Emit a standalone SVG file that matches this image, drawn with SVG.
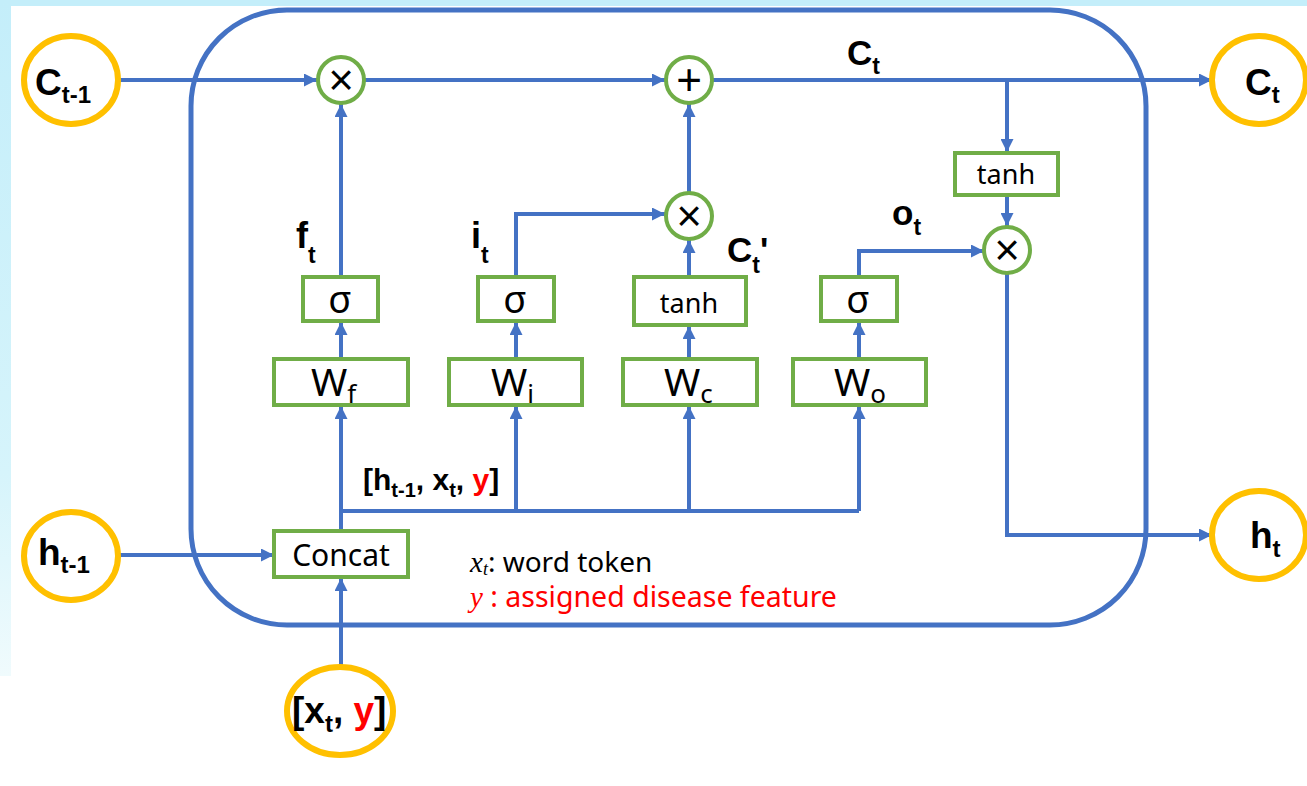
<svg xmlns="http://www.w3.org/2000/svg" width="1307" height="786" viewBox="0 0 1307 786">
<defs>
<linearGradient id="lg" x1="0" y1="0" x2="0" y2="1">
<stop offset="0" stop-color="#c4eefa"/>
<stop offset="0.7" stop-color="#d6f4fb"/>
<stop offset="1" stop-color="#f0fbfd"/>
</linearGradient>
<marker id="ah" viewBox="0 0 13 13" markerWidth="13" markerHeight="13" refX="13" refY="6.5" orient="auto" markerUnits="userSpaceOnUse">
<path d="M0,0 L13,6.5 L0,13 z" fill="#4472C4"/>
</marker>
<style>
.ln{fill:none;stroke:#4472C4;stroke-width:4}
.ar{marker-end:url(#ah)}
.op{fill:#fff;stroke:#70AD47;stroke-width:4}
.bx{fill:#fff;stroke:#70AD47;stroke-width:4}
.io{fill:#fff;stroke:#FFC000;stroke-width:6}
.lb{font-family:"Liberation Sans",Arial,sans-serif;font-weight:bold;fill:#000}
.bt{font-family:"Noto Sans","Open Sans",sans-serif;fill:#000}
.sym{font-family:"Liberation Sans",Arial,sans-serif;font-size:44px;text-anchor:middle;fill:#000}
.red{fill:#ff0000}
</style>
</defs>
<rect x="0" y="0" width="1307" height="786" fill="#fff"/>
<rect x="0" y="0" width="1307" height="6" fill="#c4eefa"/>
<rect x="0" y="0" width="11" height="676" fill="url(#lg)"/>

<g id="cell">
<rect x="191" y="10" width="955" height="615" rx="96" ry="96" fill="none" stroke="#4472C4" stroke-width="5"/>
</g>

<g id="connectors">
<path class="ln ar" d="M120,80 H317"/>
<path class="ln ar" d="M364,80 H665"/>
<path class="ln ar" d="M712,80 H1212"/>
<path class="ln ar" d="M1007,80 V152"/>
<path class="ln ar" d="M1007,197 V226"/>
<path class="ln ar" d="M1007,273 V535 H1212"/>
<path class="ln ar" d="M859,277 V251 H984"/>
<path class="ln ar" d="M341,277 V104"/>
<path class="ln ar" d="M516,277 V214 H665"/>
<path class="ln ar" d="M689,277 V240"/>
<path class="ln ar" d="M689,193 V104"/>
<path class="ln ar" d="M341,359 V322"/>
<path class="ln ar" d="M516,359 V322"/>
<path class="ln ar" d="M689,359 V326"/>
<path class="ln ar" d="M859,359 V322"/>
<path class="ln ar" d="M341,531 V406"/>
<path class="ln" d="M341,511 H859"/>
<path class="ln ar" d="M516,511 V406"/>
<path class="ln ar" d="M689,511 V406"/>
<path class="ln ar" d="M859,511 V406"/>
<path class="ln ar" d="M120,555 H274"/>
<path class="ln ar" d="M341,667 V578"/>
</g>

<g id="c_prev">
<ellipse class="io" cx="71" cy="80" rx="47" ry="44"/>
<text class="lb" x="35" y="95" font-size="37">C<tspan font-size="24" dy="8">t-1</tspan></text>
</g>
<g id="h_prev">
<ellipse class="io" cx="71" cy="556" rx="47" ry="44"/>
<text class="lb" x="38" y="565" font-size="37">h<tspan font-size="24" dy="8">t-1</tspan></text>
</g>
<g id="c_t">
<ellipse class="io" cx="1259" cy="80" rx="47" ry="44"/>
<text class="lb" x="1245" y="95" font-size="37">C<tspan font-size="24" dy="8">t</tspan></text>
</g>
<g id="h_t">
<ellipse class="io" cx="1259" cy="535" rx="47" ry="44"/>
<text class="lb" x="1250" y="548" font-size="37">h<tspan font-size="24" dy="9">t</tspan></text>
</g>
<g id="input">
<ellipse class="io" cx="340" cy="711" rx="53" ry="44"/>
<text class="lb" x="292" y="723" font-size="37">[x<tspan font-size="24" dy="9">t</tspan><tspan dy="-9">, </tspan><tspan class="red">y</tspan>]</text>
</g>

<g id="mul_f">
<circle class="op" cx="341" cy="80" r="23"/>
<text class="sym" x="341" y="95">×</text>
</g>
<g id="add">
<circle class="op" cx="689" cy="80" r="23"/>
<text class="sym" x="689" y="95">+</text>
</g>
<g id="mul_i">
<circle class="op" cx="689" cy="216" r="23"/>
<text class="sym" x="689" y="231">×</text>
</g>
<g id="mul_o">
<circle class="op" cx="1007" cy="250" r="23"/>
<text class="sym" x="1007" y="265">×</text>
</g>

<g id="tanh_out">
<rect class="bx" x="955" y="153" width="103" height="42"/>
<text class="bt" x="1006" y="184" font-size="27" text-anchor="middle">tanh</text>
</g>
<g id="sig_f">
<rect class="bx" x="303" y="277" width="75" height="44"/>
<text class="bt" x="340" y="313" font-size="38" text-anchor="middle">σ</text>
</g>
<g id="sig_i">
<rect class="bx" x="478" y="277" width="76" height="44"/>
<text class="bt" x="515" y="313" font-size="38" text-anchor="middle">σ</text>
</g>
<g id="tanh_c">
<rect class="bx" x="634" y="277" width="112" height="48"/>
<text class="bt" x="689" y="313" font-size="27" text-anchor="middle">tanh</text>
</g>
<g id="sig_o">
<rect class="bx" x="821" y="277" width="76" height="44"/>
<text class="bt" x="858" y="313" font-size="38" text-anchor="middle">σ</text>
</g>

<g id="W_f">
<rect class="bx" x="274" y="359" width="134" height="46"/>
<text class="bt" x="311" y="396" font-size="39">W<tspan font-size="26" dy="7">f</tspan></text>
</g>
<g id="W_i">
<rect class="bx" x="449" y="359" width="133" height="46"/>
<text class="bt" x="491" y="396" font-size="39">W<tspan font-size="26" dy="7">i</tspan></text>
</g>
<g id="W_c">
<rect class="bx" x="623" y="359" width="134" height="46"/>
<text class="bt" x="664" y="396" font-size="39">W<tspan font-size="26" dy="7">c</tspan></text>
</g>
<g id="W_o">
<rect class="bx" x="793" y="359" width="133" height="46"/>
<text class="bt" x="834" y="396" font-size="39">W<tspan font-size="26" dy="7">o</tspan></text>
</g>

<g id="concat">
<rect class="bx" x="274" y="531" width="134" height="46"/>
<text class="bt" x="341" y="566" font-size="30" text-anchor="middle">Concat</text>
</g>

<g id="labels">
<text class="lb" x="847" y="65" font-size="35">C<tspan font-size="23" dy="9">t</tspan></text>
<text class="lb" x="296" y="248" font-size="36">f<tspan font-size="23" dy="15">t</tspan></text>
<text class="lb" x="471" y="248" font-size="36">i<tspan font-size="23" dy="15">t</tspan></text>
<text class="lb" x="727" y="262" font-size="35">C<tspan font-size="23" dy="11">t</tspan><tspan dy="-11">'</tspan></text>
<text class="lb" x="892" y="225" font-size="35">o<tspan font-size="23" dy="10">t</tspan></text>
<text class="lb" x="363" y="490" font-size="30">[h<tspan font-size="20" dy="7">t-1</tspan><tspan dy="-7">, x</tspan><tspan font-size="20" dy="7">t</tspan><tspan dy="-7">, </tspan><tspan class="red">y</tspan>]</text>
</g>

<g id="legend">
<text x="470" y="572" font-size="29"><tspan font-family="Liberation Serif,serif" font-style="italic">x</tspan><tspan font-family="Liberation Serif,serif" font-style="italic" font-size="18" dy="3">t</tspan><tspan font-family="Noto Sans,sans-serif" font-size="28" dy="-3">: word token</tspan></text>
<text x="470" y="607" font-size="29" fill="#ff0000"><tspan font-family="Liberation Serif,serif" font-style="italic">y</tspan><tspan font-family="Noto Sans,sans-serif" font-size="28.5"> : assigned disease feature</tspan></text>
</g>
</svg>
